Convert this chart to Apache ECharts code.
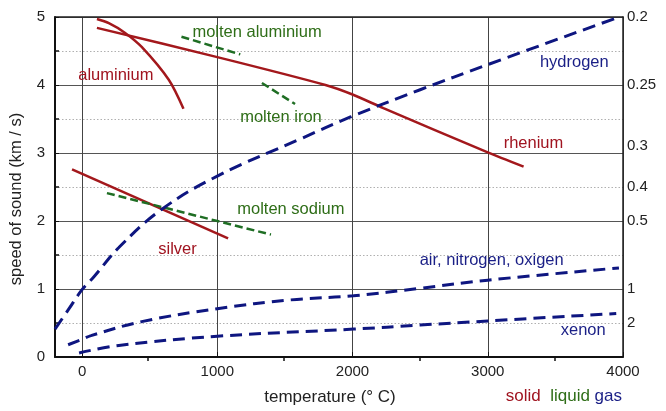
<!DOCTYPE html>
<html>
<head>
<meta charset="utf-8">
<script src="https://cdn.jsdelivr.net/npm/echarts@6/dist/echarts.min.js"></script>
<style>
  html, body { margin: 0; padding: 0; background: #fff; }
  #chart { width: 666px; height: 411px; }
</style>
</head>
<body>
<div id="chart"></div>
<script>
// Axis ticks
const xTickValues = [0, 1000, 2000, 3000, 4000];
const xMinorTickValues = [500, 1500, 2500, 3500];
// right-hand scale: slowness (s/km) placed at the matching speed
const rightTickValues = [5, 4, 3.1, 2.5, 2, 1, 0.5];
const rightTickLabels = ['0.2', '0.25', '0.3', '0.4', '0.5', '1', '2'];

// Speed of sound (km/s) vs temperature (°C)
// solids
const aluminium = [[110, 4.97], [198, 4.91], [316, 4.77], [441, 4.56], [640, 4.08], [750, 3.65]];
const rhenium = [[110, 4.84], [1000, 4.41], [1800, 4.00], [2000, 3.86], [2228, 3.66], [3000, 3.01], [3265, 2.80]];
const silver = [[-74, 2.76], [1080, 1.745]];
// liquids
const moltenAluminium = [[735, 4.71], [1170, 4.45]];
const moltenIron = [[1330, 4.03], [1575, 3.72]];
const moltenSodium = [[184, 2.41], [1397, 1.80]];
// gases
const hydrogen = [[-200, 0.41], [-100, 0.70], [0, 0.99], [88, 1.18], [272, 1.61], [588, 2.17], [1000, 2.66], [1618, 3.21], [1985, 3.53], [2500, 3.93], [3000, 4.30], [3950, 4.985]];
const airNitrogenOxigen = [[-103, 0.18], [0, 0.26], [66, 0.315], [441, 0.52], [1000, 0.71], [1544, 0.84], [2007, 0.90], [2500, 1.01], [3000, 1.13], [3970, 1.31]];
const xenon = [[-22, 0.06], [272, 0.17], [1000, 0.305], [2007, 0.41], [2500, 0.47], [3000, 0.53], [3950, 0.64]];

const RED = '#a3181c', RED_TXT = '#a01420';
const GREEN = '#1f6e24', GREEN_TXT = '#2f6e18';
const BLUE = '#0e1680', BLUE_TXT = '#1a1f86';
const FONT = '"Liberation Sans", Arial, sans-serif';

function tag(text, coord, color) {
  return {
    coord: coord,
    symbol: 'circle',
    symbolSize: 0,
    label: { show: true, position: 'inside', formatter: text, color: color, fontSize: 16.5, fontFamily: FONT }
  };
}

function lineSeries(name, data, color, width, dash, smooth, tags) {
  return {
    name: name,
    type: 'line',
    xAxisIndex: 0,
    yAxisIndex: 0,
    data: data,
    showSymbol: false,
    symbol: 'none',
    smooth: smooth,
    z: 3,
    lineStyle: { color: color, width: width, type: dash || 'solid', cap: 'butt' },
    markPoint: { silent: true, animation: false, data: tags || [] }
  };
}

const chart = echarts.init(document.getElementById('chart'), null, { renderer: 'canvas' });

chart.setOption({
  animation: false,
  backgroundColor: '#fff',
  textStyle: { fontFamily: FONT },
  title: {
    right: 39,
    top: 383,
    padding: 5,
    text: '{s|solid}  {l|liquid} {g|gas}',
    textStyle: {
      fontSize: 17,
      fontWeight: 'normal',
      rich: {
        s: { color: RED_TXT, fontSize: 17, fontFamily: FONT },
        l: { color: GREEN_TXT, fontSize: 17, fontFamily: FONT },
        g: { color: BLUE_TXT, fontSize: 17, fontFamily: FONT }
      }
    }
  },
  grid: [
    { left: 53, right: 43, top: 17, bottom: 50 },
    { left: 53, right: 43, top: 17, bottom: 50 }
  ],
  xAxis: [
    {
      gridIndex: 0,
      type: 'value',
      position: 'bottom',
      min: -200,
      max: 4000,
      name: 'temperature (° C)',
      nameLocation: 'middle',
      nameGap: 32,
      nameTextStyle: { fontSize: 17, color: '#222', fontFamily: FONT, padding: [0, 18, 0, 0] },
      axisLine: { show: true, onZero: false, lineStyle: { color: '#111', width: 2 } },
      axisTick: { show: true, inside: true, length: 5, customValues: xTickValues, lineStyle: { color: '#111' } },
      axisLabel: {
        customValues: xTickValues,
        margin: 7,
        fontSize: 15,
        color: '#222',
        fontFamily: FONT,
        formatter: function (v) { return String(v); }
      },
      splitLine: { show: true, lineStyle: { color: '#444', width: 1 } }
    },
    {
      gridIndex: 0,
      type: 'value',
      position: 'top',
      min: -200,
      max: 4000,
      axisLine: { show: true, onZero: false, lineStyle: { color: '#222', width: 1.5 } },
      axisTick: { show: false },
      axisLabel: { show: false },
      splitLine: { show: false }
    },
    {
      gridIndex: 1,
      type: 'value',
      position: 'bottom',
      min: -200,
      max: 4000,
      axisLine: { show: false, onZero: false },
      axisTick: { show: true, inside: true, length: 5, customValues: xMinorTickValues, lineStyle: { color: '#111', width: 1.5 } },
      axisLabel: { show: false },
      splitLine: { show: false }
    }
  ],
  yAxis: [
    {
      gridIndex: 0,
      type: 'value',
      position: 'left',
      min: 0,
      max: 5,
      interval: 1,
      name: 'speed of sound (km / s)',
      nameLocation: 'middle',
      nameGap: 30,
      nameTextStyle: { fontSize: 16.5, color: '#222', fontFamily: FONT, padding: [0, 24, 0, 0] },
      axisLine: { show: true, onZero: false, lineStyle: { color: '#111', width: 2 } },
      axisTick: { show: true, inside: true, length: 4, lineStyle: { color: '#111' } },
      minorTick: { show: true, splitNumber: 2, length: 4, lineStyle: { color: '#111', width: 1.5 } },
      axisLabel: { margin: 10, fontSize: 15, color: '#222', fontFamily: FONT },
      splitLine: { show: true, lineStyle: { color: '#555', width: 1 } },
      minorSplitLine: { show: true, lineStyle: { color: '#b0b0b0', width: 1, type: [1.5, 2] } }
    },
    {
      gridIndex: 0,
      type: 'value',
      position: 'right',
      min: 0,
      max: 5,
      axisLine: { show: true, onZero: false, lineStyle: { color: '#222', width: 1.5 } },
      axisTick: { show: false },
      axisLabel: {
        customValues: rightTickValues,
        margin: 4,
        fontSize: 15,
        color: '#222',
        fontFamily: FONT,
        formatter: function (v) {
          const i = rightTickValues.findIndex(function (t) { return Math.abs(t - v) < 1e-6; });
          return i >= 0 ? rightTickLabels[i] : '';
        }
      },
      splitLine: { show: false }
    },
    {
      gridIndex: 1,
      type: 'value',
      min: 0,
      max: 5,
      show: false
    }
  ],
  series: [
    lineSeries('aluminium', aluminium, RED, 2.5, null, 0.3, [tag('aluminium', [250, 4.14], RED_TXT)]),
    lineSeries('rhenium', rhenium, RED, 2.5, null, 0.25, [tag('rhenium', [3338, 3.14], RED_TXT)]),
    lineSeries('silver', silver, RED, 2.5, null, false, [tag('silver', [706, 1.58], RED_TXT)]),
    lineSeries('molten aluminium', moltenAluminium, GREEN, 2.5, [8, 4], false, [tag('molten aluminium', [1294, 4.78], GREEN_TXT)]),
    lineSeries('molten iron', moltenIron, GREEN, 2.5, [8, 4], false, [tag('molten iron', [1471, 3.53], GREEN_TXT)]),
    lineSeries('molten sodium', moltenSodium, GREEN, 2.5, [8, 4], false, [tag('molten sodium', [1544, 2.17], GREEN_TXT)]),
    lineSeries('hydrogen', hydrogen, BLUE, 3, [13, 7], 0.4, [tag('hydrogen', [3640, 4.33], BLUE_TXT)]),
    lineSeries('air, nitrogen, oxigen', airNitrogenOxigen, BLUE, 3, [12, 7], 0.4, [tag('air, nitrogen, oxigen', [3029, 1.42], BLUE_TXT)]),
    lineSeries('xenon', xenon, BLUE, 3, [12, 7], 0.4, [tag('xenon', [3706, 0.39], BLUE_TXT)])
  ]
});
</script>
</body>
</html>
